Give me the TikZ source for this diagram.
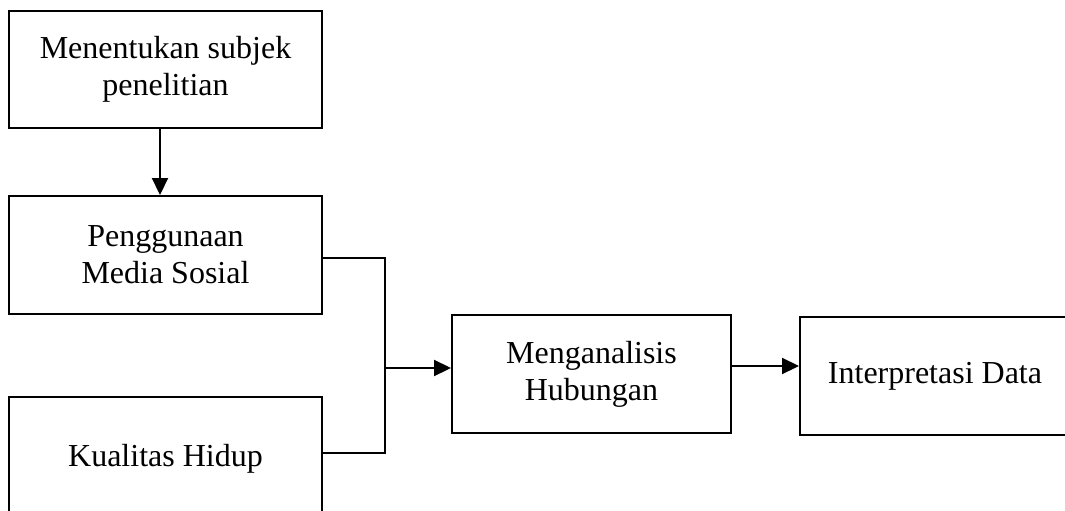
\documentclass[tikz,border=0pt]{standalone}
\usepackage{fontspec}
\setmainfont{Liberation Serif}
\usetikzlibrary{arrows.meta}
\begin{document}
\begin{tikzpicture}[x=1pt,y=-1pt,
  box/.style={draw,line width=2pt,rectangle,align=center,inner sep=0pt,
    font=\fontsize{32}{37}\selectfont},
  conn/.style={line width=2.2pt},
  arr/.style={conn,-{Triangle[length=17pt,width=16pt]}}]
\useasboundingbox (0,0) rectangle (1065,511);
\clip (0,0) rectangle (1065,511);
\node[box,minimum width=313pt,minimum height=117pt] (subj) at (165.5,69.5) {Menentukan subjek\\penelitian};
\node[box,minimum width=313pt,minimum height=118pt] (media) at (165.5,255) {Penggunaan\\Media Sosial};
\node[box,minimum width=313pt,minimum height=124pt] (kual) at (165.5,459) {Kualitas Hidup};
\node[box,minimum width=279pt,minimum height=118pt] (anal) at (591.5,374) {Menganalisis\\Hubungan};
\node[box,minimum width=270pt,minimum height=118pt] (interp) at (935,376) {Interpretasi Data};
\coordinate (j1) at (385,258);
\coordinate (j2) at (385,453);
\coordinate (jm) at (385,368);
\draw[arr] (subj.south -| 160,0) -- (media.north -| 160,0);
\draw[conn] (media.east |- j1) -- (j1) -- (j2) -- (kual.east |- j2);
\draw[arr] (jm) -- (anal.west |- jm);
\draw[arr] (anal.east |- 0,366) -- (interp.west |- 0,366);
\end{tikzpicture}
\end{document}
